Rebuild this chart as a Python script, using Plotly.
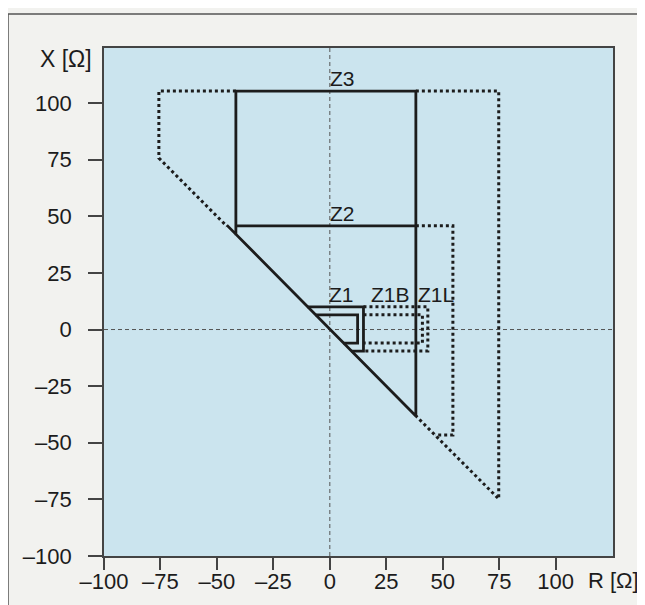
import plotly.graph_objects as go

# ---- data (R, X in ohms) ----
tick_vals = [-100, -75, -50, -25, 0, 25, 50, 75, 100]

# solid characteristic: diagonal + Z3 rectangle
z3_R = [-45.6, 38.1, 38.1, -41.6, -41.6]
z3_X = [46.1, -38.2, 105.3, 105.3, 41.6]
# Z2 reach line
z2_R = [-41.6, 38.1]
z2_X = [45.8, 45.8]
# Z3 reverse/extended (dotted)
z3d_R = [-41.6, -75.7, -75.7, -45.6, None, 38.1, 74.8, 74.8, 38.1]
z3d_X = [105.3, 105.3, 75.7, 45.6, None, 105.3, 105.3, -74.8, -38.1]
# Z2 extended (dotted)
z2d_R = [38.1, 54.5, 54.5, 46.6]
z2d_X = [45.8, 45.8, -46.6, -46.6]
# Z1 outer and inner (solid)
z1o_R = [-10.0, 14.9, 14.9, 9.5]
z1o_X = [10.0, 10.0, -9.5, -9.5]
z1i_R = [-6.5, 12.3, 12.3, 6.0]
z1i_X = [6.5, 6.5, -6.0, -6.0]
# Z1B / Z1L extensions (dotted)
z1b_R = [14.9, 43.4, 43.4, 14.9]
z1b_X = [10.0, 10.0, -9.5, -9.5]
z1l_R = [14.9, 41.0, 41.0, 14.9]
z1l_X = [6.5, 6.5, -6.0, -6.0]

zone_labels = ["Z3", "Z2", "Z1", "Z1B", "Z1L"]
label_R = [5.8, 5.8, 5.3, 27.0, 47.0]
label_X = [110.8, 51.2, 15.6, 15.6, 15.6]

FONT = "Liberation Sans, Arial, sans-serif"
INK = "#1c1c1c"

fig = go.Figure()

def add_line(r, x, dotted=False):
    fig.add_trace(go.Scatter(
        x=r, y=x, mode="lines", showlegend=False, hoverinfo="skip",
        line=dict(color=INK, width=3 if dotted else 2.8,
                  dash="3px,3px" if dotted else "solid"),
    ))

add_line(z3d_R, z3d_X, True)
add_line(z2d_R, z2d_X, True)
add_line(z1b_R, z1b_X, True)
add_line(z1l_R, z1l_X, True)
add_line(z3_R, z3_X)
add_line(z2_R, z2_X)
add_line(z1o_R, z1o_X)
add_line(z1i_R, z1i_X)

for t, r, x in zip(zone_labels, label_R, label_X):
    fig.add_annotation(x=r, y=x, text=t, showarrow=False,
                       font=dict(family=FONT, size=21, color=INK),
                       xanchor="center", yanchor="middle")

# dashed zero lines
fig.add_shape(type="line", xref="x", yref="paper", x0=0, x1=0, y0=0, y1=1,
              line=dict(color="#555", width=1, dash="4px,3px"), layer="below")
fig.add_shape(type="line", xref="paper", yref="paper", x0=0, x1=1, y0=100/224.3, y1=100/224.3,
              line=dict(color="#555", width=1, dash="4px,3px"), layer="below")

# outer frame
fig.add_shape(type="rect", xref="paper", yref="paper",
              x0=-0.1886, x1=1.2, y0=-0.2, y1=1.067,
              line=dict(color="#555", width=1.5), fillcolor="rgba(0,0,0,0)", layer="above")

fig.add_annotation(xref="paper", yref="paper", x=-0.0747, y=0.978, text="X [Ω]",
                   showarrow=False, font=dict(family=FONT, size=23, color=INK),
                   xanchor="center", yanchor="middle")
fig.add_annotation(xref="paper", yref="paper", x=1.0, y=-0.049, text="R [Ω]",
                   showarrow=False, font=dict(family=FONT, size=22, color=INK),
                   xanchor="center", yanchor="middle")

tick_text = [f"{v}".replace("-", "\u2013") for v in tick_vals]

axis_common = dict(
    tickvals=tick_vals,
    showgrid=False, zeroline=False, showline=True, mirror=True, automargin=False,
    linecolor="#444", linewidth=1.5, ticks="outside", tickcolor="#444", tickwidth=1.5,
    tickfont=dict(family=FONT, size=22, color=INK), fixedrange=True,
)
fig.update_xaxes(range=[-100, 125.4], ticklen=12, ticklabelstandoff=-7,
                 ticktext=tick_text, **axis_common)
fig.update_yaxes(range=[-100, 124.3], ticklen=14,
                 ticktext=[t + "\u00a0\u00a0" for t in tick_text], **axis_common)

# body has an 8px browser margin, so the plot area is offset accordingly
fig.update_layout(
    width=645, height=605,
    margin=dict(l=96, r=40, t=40, b=57),
    paper_bgcolor="#f2f2ef", plot_bgcolor="#cbe4ee",
    showlegend=False,
)

fig.write_html("out.html")
